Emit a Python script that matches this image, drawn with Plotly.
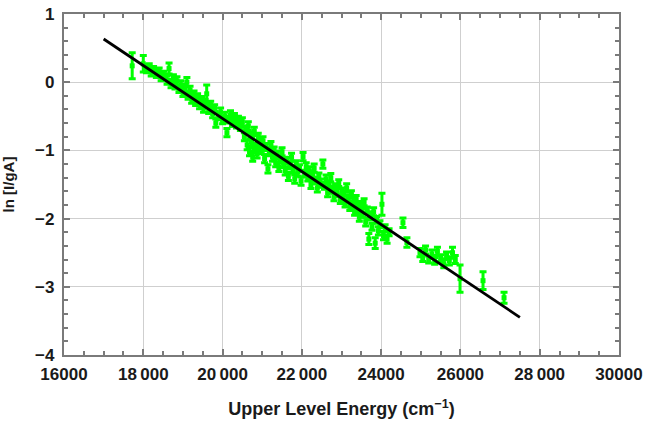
import plotly.graph_objects as go

# Measured points: upper level energy (cm^-1), ln[I/gA], error (half-height)
energy = [17720, 18000, 18080, 18150, 18200, 18260, 18330, 18400, 18450, 18520,
          18600, 18650, 18700, 18760, 18800, 18850, 18900, 18950, 19000, 19050,
          19100, 19130, 19180, 19220, 19280, 19320, 19370, 19420, 19470, 19520,
          19560, 19600, 19650, 19700, 19750, 19800, 19830, 19900, 19950, 20000,
          20060, 20110, 20150, 20200, 20250, 20300, 20350, 20400, 20450, 20500,
          20550, 20580, 20620, 20650, 20680, 20700, 20730, 20760, 20800, 20830,
          20870, 20900, 20940, 20980, 21020, 21060, 21100, 21145, 21180, 21220,
          21260, 21300, 21340, 21380, 21420, 21460, 21500, 21540, 21580, 21620,
          21660, 21700, 21740, 21780, 21820, 21860, 21900, 21940, 21980, 22030,
          22070, 22110, 22150, 22190, 22230, 22270, 22310, 22350, 22390, 22430,
          22470, 22530, 22570, 22610, 22650, 22690, 22730, 22770, 22810, 22850,
          22890, 22930, 22970, 23010, 23050, 23090, 23130, 23170, 23210, 23250,
          23290, 23330, 23370, 23410, 23450, 23490, 23530, 23570, 23610, 23650,
          23690, 23730, 23770, 23810, 23850, 23890, 23930, 23970, 24020, 24060,
          24100, 24150, 24200, 24550, 24650, 24980, 25050, 25120, 25200, 25280,
          25350, 25420, 25500, 25580, 25650, 25720, 25800, 25870, 25990, 26570,
          27100]
ln_iga = [0.24, 0.27, 0.20, 0.22, 0.15, 0.18, 0.12, 0.16, 0.08, 0.11,
          0.03, 0.20, -0.02, 0.06, -0.05, 0.02, -0.10, -0.04, -0.15, -0.08,
          0.00, -0.20, -0.12, -0.25, -0.18, -0.28, -0.22, -0.33, -0.26, -0.38,
          -0.30, -0.17, -0.40, -0.33, -0.46, -0.38, -0.60, -0.50, -0.44, -0.56,
          -0.50, -0.74, -0.55, -0.48, -0.60, -0.52, -0.62, -0.56, -0.66, -0.58,
          -0.80, -0.70, -0.92, -0.64, -1.02, -0.78, -0.88, -1.10, -0.72, -0.95,
          -1.05, -0.80, -0.90, -1.00, -0.86, -1.12, -0.95, -1.27, -1.02, -0.92,
          -1.10, -1.00, -1.18, -1.06, -1.25, -1.12, -1.02, -1.20, -1.30, -1.15,
          -1.38, -1.22, -1.10, -1.28, -1.42, -1.20, -1.32, -1.26, -1.45, -1.09,
          -1.34, -1.24, -1.40, -1.30, -1.50, -1.36, -1.26, -1.44, -1.55, -1.38,
          -1.48, -1.20, -1.52, -1.42, -1.62, -1.50, -1.40, -1.58, -1.68, -1.54,
          -1.62, -1.48, -1.72, -1.60, -1.66, -1.78, -1.55, -1.70, -1.82, -1.64,
          -1.76, -1.90, -1.72, -1.84, -1.98, -1.80, -1.92, -1.76, -2.05, -1.88,
          -2.30, -1.96, -2.12, -1.90, -2.36, -2.02, -2.18, -2.08, -1.79, -2.25,
          -2.14, -2.30, -2.20, -2.06, -2.35, -2.50, -2.58, -2.46, -2.60, -2.52,
          -2.62, -2.48, -2.58, -2.66, -2.54, -2.62, -2.50, -2.60, -2.88, -2.91,
          -3.16]
err = [0.19, 0.12, 0.06, 0.05, 0.06, 0.05, 0.05, 0.05, 0.06, 0.05,
       0.06, 0.08, 0.06, 0.05, 0.05, 0.06, 0.05, 0.06, 0.06, 0.05,
       0.07, 0.05, 0.06, 0.06, 0.05, 0.06, 0.05, 0.06, 0.05, 0.06,
       0.05, 0.13, 0.06, 0.05, 0.06, 0.05, 0.06, 0.05, 0.06, 0.05,
       0.06, 0.06, 0.05, 0.06, 0.05, 0.06, 0.05, 0.06, 0.05, 0.06,
       0.06, 0.05, 0.07, 0.06, 0.06, 0.05, 0.06, 0.06, 0.06, 0.05,
       0.06, 0.05, 0.06, 0.05, 0.06, 0.06, 0.05, 0.06, 0.06, 0.05,
       0.06, 0.05, 0.06, 0.05, 0.06, 0.05, 0.06, 0.05, 0.06, 0.05,
       0.06, 0.05, 0.06, 0.05, 0.06, 0.05, 0.06, 0.05, 0.06, 0.06,
       0.05, 0.06, 0.05, 0.06, 0.06, 0.05, 0.06, 0.05, 0.06, 0.05,
       0.06, 0.06, 0.05, 0.06, 0.06, 0.05, 0.06, 0.05, 0.06, 0.05,
       0.06, 0.05, 0.06, 0.05, 0.06, 0.05, 0.06, 0.05, 0.06, 0.05,
       0.06, 0.05, 0.06, 0.05, 0.06, 0.05, 0.06, 0.05, 0.06, 0.05,
       0.08, 0.06, 0.05, 0.06, 0.08, 0.05, 0.06, 0.05, 0.16, 0.06,
       0.05, 0.06, 0.05, 0.07, 0.07, 0.06, 0.05, 0.06, 0.05, 0.06,
       0.05, 0.06, 0.05, 0.06, 0.05, 0.06, 0.08, 0.06, 0.20, 0.13,
       0.08]

# Linear fit (Boltzmann plot)
fit_energy = [17000, 27500]
fit_ln = [0.633, -3.447]

x_tickvals = [16000, 18000, 20000, 22000, 24000, 26000, 28000, 30000]
x_ticktext = ["16000", "18\u2009000", "20\u2009000", "22\u2009000", "24000", "26000", "28\u2009000", "30000"]
y_tickvals = [1, 0, -1, -2, -3, -4]

green = "#00ff00"
font_family = "Liberation Sans, Arial, sans-serif"
text_color = "#1a1a1a"

fig = go.Figure()
fig.add_trace(go.Scatter(
    x=energy, y=ln_iga, mode="markers",
    marker=dict(color=green, size=5, symbol="square"),
    error_y=dict(type="data", array=err, visible=True, color=green, thickness=3, width=3.5),
    showlegend=False,
))
fig.add_trace(go.Scatter(
    x=fit_energy, y=fit_ln, mode="lines",
    line=dict(color="black", width=2.8),
    showlegend=False,
))

axis_common = dict(
    showline=True, linecolor="#7a7a7a", linewidth=2.2, mirror="ticks",
    ticks="inside", ticklen=6, tickwidth=1.5, tickcolor="#7a7a7a",
    showgrid=True, gridcolor="#cfcfcf", gridwidth=1.2, zeroline=False,
    tickfont=dict(family=font_family, size=17, color=text_color, weight="bold"),
)

fig.update_layout(
    width=646, height=425,
    margin=dict(l=64, r=27, t=14, b=70),
    paper_bgcolor="white", plot_bgcolor="white",
    xaxis=dict(
        range=[16000, 30000], tickvals=x_tickvals, ticktext=x_ticktext,
        minor=dict(dtick=500, ticks="inside", ticklen=3.5, tickcolor="#7a7a7a", showgrid=False),
        title=dict(text="Upper Level Energy (cm<sup>\u22121</sup>)", standoff=20,
                   font=dict(family=font_family, size=18, color=text_color, weight="bold")),
        automargin=False,
        ticklabelstandoff=2,
        **axis_common,
    ),
    yaxis=dict(
        range=[-4, 1], tickvals=y_tickvals,
        minor=dict(dtick=0.2, ticks="inside", ticklen=3.5, tickcolor="#7a7a7a", showgrid=False),
        title=dict(text="ln [I/gA]", standoff=20,
                   font=dict(family=font_family, size=15, color=text_color, weight="bold")),
        automargin=False,
        ticklabelstandoff=4,
        **axis_common,
    ),
)

fig.write_html("out.html")
